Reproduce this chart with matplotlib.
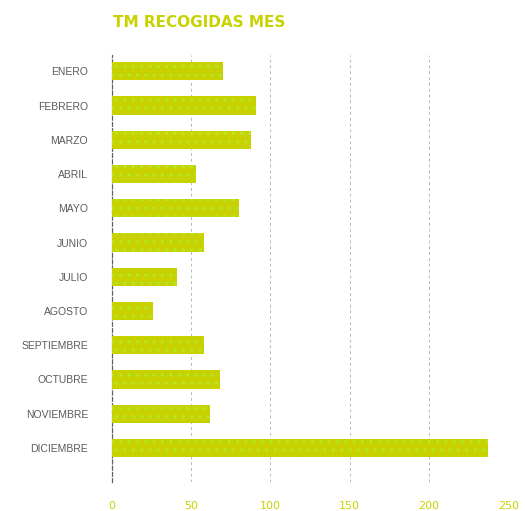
import matplotlib
matplotlib.use("Agg")
import matplotlib.pyplot as plt
import numpy as np

# datos
meses = ['ENERO', 'FEBRERO', 'MARZO', 'ABRIL', 'MAYO', 'JUNIO', 'JULIO',
         'AGOSTO', 'SEPTIEMBRE', 'OCTUBRE', 'NOVIEMBRE', 'DICIEMBRE']
toneladas = [70, 91, 88, 53, 80, 58, 41, 26, 58, 68, 62, 237]
ticks_x = [0, 50, 100, 150, 200, 250]

verde = '#c8d200'
plt.rcParams['hatch.color'] = '#b0e830'
plt.rcParams['hatch.linewidth'] = 1.0

fig = plt.figure(figsize=(5.25, 5.11), dpi=100)
ax = fig.add_axes([0.213, 0.057, 0.755, 0.835])

y = np.arange(len(meses))
ax.barh(y, toneladas, height=0.53, color=verde, hatch='..', linewidth=0, zorder=3)

ax.set_ylim(11.99, -0.47)
ax.set_xlim(0, 250)
ax.set_xticks(ticks_x)
ax.set_yticks(y)
ax.set_yticklabels(meses, fontsize=7.5, color='#5a5a5a', family='Liberation Sans')
ax.set_xticklabels([str(t) for t in ticks_x], fontsize=8, color='#c8d200')
ax.tick_params(axis='both', length=0)
ax.tick_params(axis='x', pad=14)
ax.tick_params(axis='y', pad=17)

ax.grid(axis='x', color='#b8b8b8', linestyle=(0, (3, 3)), linewidth=0.7, zorder=0)
for s in ['top', 'right', 'bottom']:
    ax.spines[s].set_visible(False)
ax.spines['left'].set_linestyle((0, (3, 2)))
ax.spines['left'].set_color('#606060')
ax.spines['left'].set_linewidth(0.9)

fig.text(0.215, 0.955, 'TM RECOGIDAS MES', fontsize=11, fontweight='bold',
         color=verde, ha='left', va='center')

fig.savefig('out.png', dpi=100, facecolor='white')
